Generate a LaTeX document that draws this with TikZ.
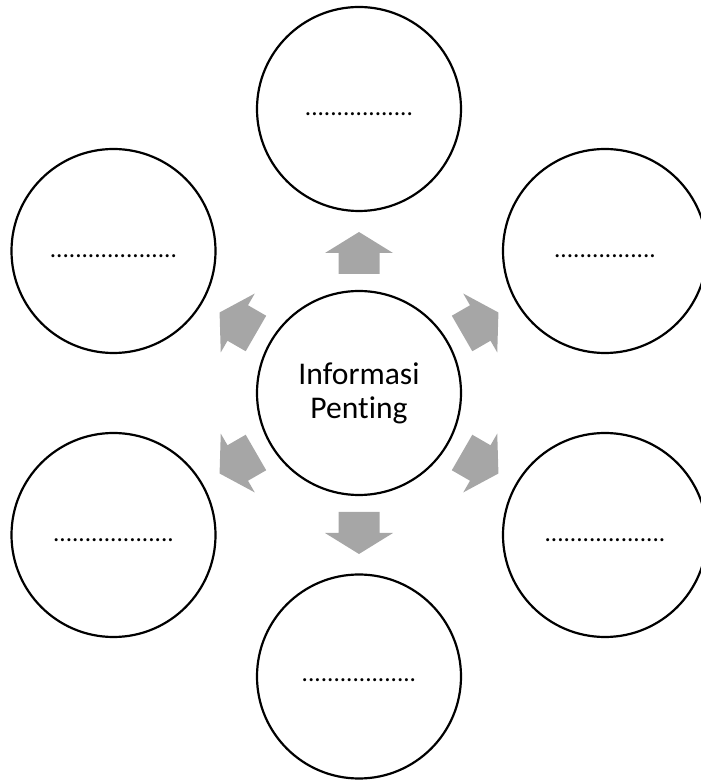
\documentclass[tikz,border=0pt]{standalone}
\usepackage{fontspec}
\setmainfont{Carlito}[Ligatures={NoCommon}]
\definecolor{arrowgray}{RGB}{166,166,166}
\tikzset{
  bubble/.style={circle, draw=black, line width=2.2pt, minimum size=204pt, inner sep=0pt, fill=white},
  blanktext/.style={anchor=base, inner sep=0pt, font=\fontsize{25.2pt}{30pt}\selectfont},
  maintext/.style={anchor=base, inner sep=0pt, align=center, font=\fontsize{31.6pt}{34pt}\selectfont},
  blockarrow/.style={fill=arrowgray, draw=none}
}
\begin{document}
\begin{tikzpicture}[x=1pt,y=1pt]
\useasboundingbox (0,0) rectangle (701,782);
\clip (0,0) rectangle (701,782);
% circles
\node[bubble] (c)  at (359,389) {};
\node[bubble] (t)  at (359,673) {};
\node[bubble] (ul) at (113.5,531) {};
\node[bubble] (ur) at (605,531) {};
\node[bubble] (ll) at (113.5,247) {};
\node[bubble] (lr) at (605,247) {};
\node[bubble] (b)  at (359,105.5) {};
% centre text (base anchor = baseline of last line)
\node[maintext] (ctext) at ([yshift=-26pt]c.center) {Informasi\\Penting};
% blanks
\node[blanktext] (tt)  at ([yshift=-7pt]t.center)  {.................};
\node[blanktext] (ult) at ([yshift=-7pt]ul.center) {....................};
\node[blanktext] (urt) at ([yshift=-7pt]ur.center) {................};
\node[blanktext] (llt) at ([yshift=-7pt]ll.center) {...................};
\node[blanktext] (lrt) at ([yshift=-7pt]lr.center) {...................};
\node[blanktext] (bt)  at ([yshift=-5pt]b.center)  {..................};
% block arrows radiating from the centre
\foreach \ang in {90,30,-30,-90,210,150}{
  \fill[blockarrow, shift={(c.center)}, rotate=\ang]
    (119,-20.5) -- (140,-20.5) -- (140,-34) -- (161,0) -- (140,34) -- (140,20.5) -- (119,20.5) -- cycle;
}
\end{tikzpicture}
\end{document}
